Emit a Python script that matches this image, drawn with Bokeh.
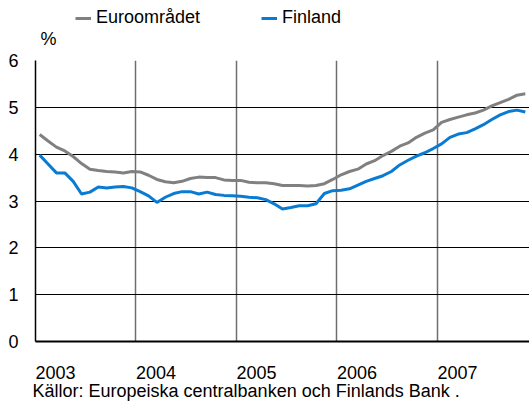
from bokeh.plotting import figure
from bokeh.layouts import column
from bokeh.models import Range1d, FixedTicker, Legend, LegendItem, Label, ColumnDataSource
from bokeh.embed import file_html
from bokeh.resources import INLINE

# Monthly data, Jan 2003 - Nov 2007
years = [2003] * 12 + [2004] * 12 + [2005] * 12 + [2006] * 12 + [2007] * 11
months = list(range(1, 13)) * 4 + list(range(1, 12))

euro = [4.42, 4.28, 4.15, 4.07, 3.95, 3.80, 3.68, 3.65, 3.63, 3.62, 3.60, 3.63,
        3.62, 3.55, 3.46, 3.41, 3.39, 3.42, 3.48, 3.51, 3.50, 3.50, 3.45, 3.44,
        3.44, 3.40, 3.39, 3.39, 3.37, 3.33, 3.33, 3.33, 3.32, 3.33, 3.37, 3.46,
        3.56, 3.63, 3.68, 3.79, 3.86, 3.97, 4.06, 4.17, 4.24, 4.36, 4.45, 4.52,
        4.68, 4.74, 4.79, 4.84, 4.88, 4.94, 5.03, 5.10, 5.17, 5.26, 5.29]

finland = [3.98, 3.79, 3.60, 3.60, 3.42, 3.15, 3.19, 3.30, 3.28, 3.30, 3.31, 3.28,
           3.20, 3.11, 2.97, 3.08, 3.16, 3.20, 3.20, 3.15, 3.19, 3.14, 3.12, 3.11,
           3.10, 3.08, 3.07, 3.03, 2.94, 2.83, 2.86, 2.90, 2.90, 2.94, 3.16, 3.22,
           3.23, 3.26, 3.34, 3.42, 3.48, 3.54, 3.63, 3.77, 3.87, 3.96, 4.03, 4.12,
           4.22, 4.36, 4.43, 4.46, 4.54, 4.63, 4.74, 4.84, 4.91, 4.94, 4.90]

year_labels = ["2003", "2004", "2005", "2006", "2007"]
y_ticks = [0, 1, 2, 3, 4, 5, 6]
series_names = ["Euroområdet", "Finland"]
unit_label = "%"
source_text = "Källor: Europeiska centralbanken och Finlands Bank ."

EURO_COLOR = "#808080"
FIN_COLOR = "#0a7bd2"
FONT = "Liberation Sans"
FS = "18px"
W = 529
BASE_SHIFT = 7  # label baseline correction (px)

t = [y + (m - 0.5) / 12 for y, m in zip(years, months)]
src = ColumnDataSource(dict(t=t, euro=euro, finland=finland))


def strip(height):
    f = figure(width=W, height=height, output_backend="svg", toolbar_location=None,
               x_range=Range1d(0, W), y_range=Range1d(0, height),
               x_axis_type=None, y_axis_type=None, frame_align=False,
               min_border=0, min_border_left=0, min_border_right=0,
               min_border_top=0, min_border_bottom=0)
    f.outline_line_color = None
    f.grid.visible = False
    f.background_fill_color = "white"
    f.border_fill_color = "white"
    return f


# ---------- top strip: legend and unit ----------
TOP_H = 49
top = strip(TOP_H)
# same series drawn in the strip (they fall outside its range) so the legend gets swatches
k_euro = top.line("t", "euro", source=src, line_color=EURO_COLOR, line_width=3)
k_fin = top.line("t", "finland", source=src, line_color=FIN_COLOR, line_width=3)
legend = Legend(items=[LegendItem(label=series_names[0], renderers=[k_euro]),
                       LegendItem(label=series_names[1], renderers=[k_fin])],
                orientation="horizontal", location=(75, 21),
                label_text_font=FONT, label_text_font_size=FS, label_text_color="black",
                glyph_width=16, glyph_height=20, label_standoff=5, spacing=61,
                padding=0, margin=0, background_fill_alpha=0, border_line_color=None)
top.add_layout(legend, "center")
top.add_layout(Label(x=40, y=4 + BASE_SHIFT, text=unit_label, text_baseline="alphabetic",
                     text_font=FONT, text_font_size=FS, text_color="black"))

# ---------- main chart ----------
MAIN_H = 332
p = figure(width=W, height=MAIN_H, output_backend="svg", toolbar_location=None,
           x_range=Range1d(2003, 2003 + 59 / 12), y_range=Range1d(0, 6), frame_align=False,
           min_border_left=35, min_border_right=0, min_border_top=11, min_border_bottom=36)
p.outline_line_color = None
p.background_fill_color = "white"
p.border_fill_color = "white"

year_starts = [int(s) for s in year_labels]
label_pos = [y + 0.2 for y in year_starts]

p.xaxis.ticker = FixedTicker(ticks=label_pos)
p.xaxis.major_label_overrides = {lp: s for lp, s in zip(label_pos, year_labels)}
p.xaxis.major_tick_line_color = None
p.xaxis.minor_tick_line_color = None
p.xaxis.axis_line_color = "black"
p.xaxis.axis_line_width = 2
p.xaxis.major_label_text_font = FONT
p.xaxis.major_label_text_font_size = FS
p.xaxis.major_label_text_color = "black"
p.xaxis.major_label_standoff = 18

p.yaxis.ticker = FixedTicker(ticks=y_ticks)
p.yaxis.major_tick_line_color = None
p.yaxis.minor_tick_line_color = None
p.yaxis.axis_line_color = "black"
p.yaxis.axis_line_width = 1.5
p.yaxis.major_label_text_font = FONT
p.yaxis.major_label_text_font_size = FS
p.yaxis.major_label_text_color = "black"
p.yaxis.major_label_standoff = 11

p.xgrid.ticker = FixedTicker(ticks=year_starts)
p.xgrid.grid_line_color = "#6e6e6e"
p.xgrid.grid_line_width = 1.5
p.ygrid.grid_line_color = "black"
p.ygrid.grid_line_width = 1.2

p.line("t", "euro", source=src, line_color=EURO_COLOR, line_width=3)
p.line("t", "finland", source=src, line_color=FIN_COLOR, line_width=3)

# ---------- bottom strip: source ----------
BOT_H = 20
bot = strip(BOT_H)
bot.add_layout(Label(x=32, y=4 + BASE_SHIFT, text=source_text, text_baseline="alphabetic",
                     text_font=FONT, text_font_size=FS, text_color="black"))

layout = column(top, p, bot, spacing=0)
open("out.html", "w").write(file_html(layout, INLINE))
